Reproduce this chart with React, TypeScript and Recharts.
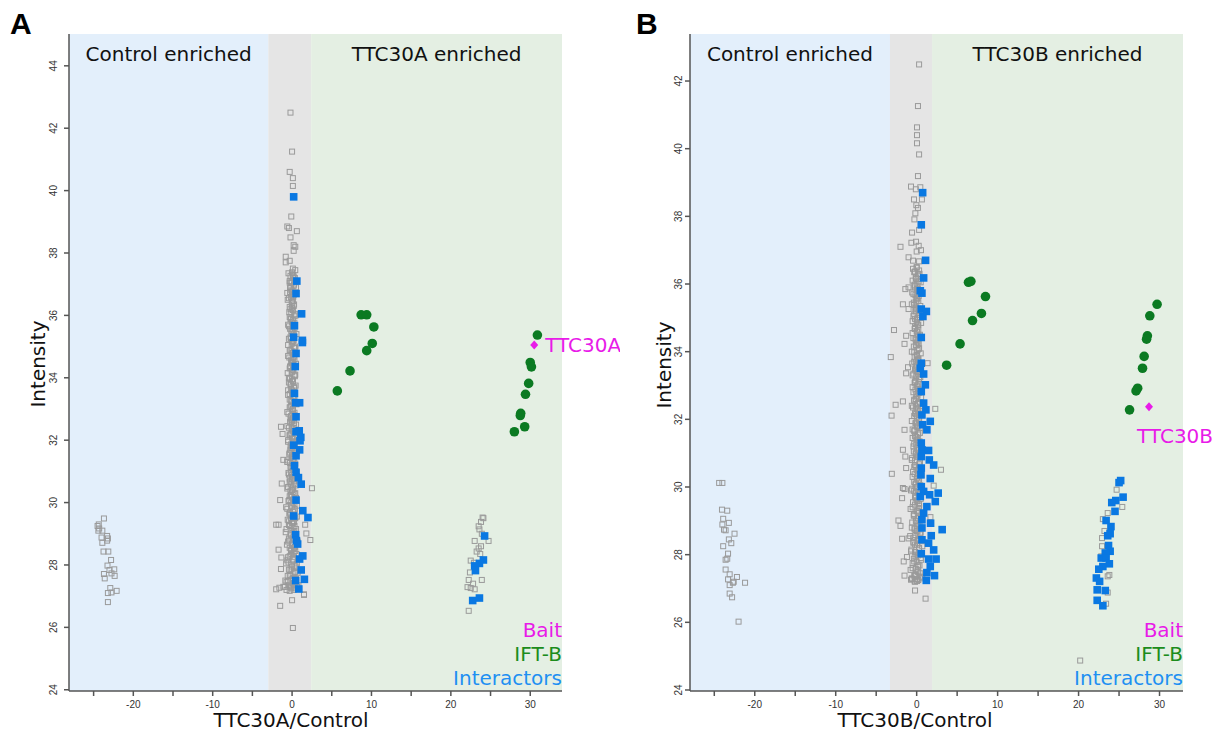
import React from "react";
import { ScatterChart, Scatter, XAxis, YAxis, ReferenceArea } from "recharts";

type Pt = [number, number];

// ---- Panel A (TTC30A) ----
const aGrayLeft: Pt[] = [
  [-23.7, 29.49], [-24.35, 29.3], [-24.5, 29.25], [-24.3, 29.17], [-24.4, 29.1], [-23.9, 29.1],
  [-23.3, 28.93], [-23.2, 28.85], [-24.0, 28.88], [-23.9, 28.71], [-23.3, 28.78], [-23.75, 28.43],
  [-23.15, 28.43], [-22.8, 28.16], [-23.25, 27.98], [-22.4, 27.86], [-23.0, 27.84], [-23.7, 27.71],
  [-22.75, 27.73], [-22.35, 27.65], [-23.6, 27.57], [-22.9, 27.26], [-22.75, 27.12], [-23.2, 27.1],
  [-22.1, 27.17], [-23.2, 26.81],
];
const aGrayCenter: Pt[] = [
  [-0.2, 42.5], [0.0, 41.25], [-0.3, 40.6], [0.1, 40.4], [0.1, 40.15], [-0.1, 39.17], [-0.6, 38.85],
  [-0.4, 38.8], [0.6, 38.7], [-0.2, 38.5], [0.2, 38.25], [0.4, 38.2], [0.2, 38.07], [-0.8, 37.88],
  [-0.3, 37.75], [-0.8, 37.7], [0.1, 37.5], [0.4, 37.45], [0.2, 37.25], [-0.3, 37.05], [-0.2, 36.9],
  [-0.6, 36.72], [0.0, 36.68],
  [2.5, 30.46], [-1.4, 32.43], [-1.2, 32.2], [-1.1, 31.37], [-1.3, 30.61], [-1.5, 30.08], [-2.0, 29.29],
  [-1.7, 29.29], [1.65, 29.29], [1.8, 29.01], [2.3, 28.8], [-1.7, 28.49], [-1.35, 28.24], [-1.4, 27.87],
  [-1.6, 27.27], [-2.0, 27.22], [-1.1, 27.3], [-0.7, 27.2], [-0.3, 27.17], [1.5, 27.04], [0.0, 26.87],
  [-1.5, 26.69], [0.1, 25.98], [1.5, 27.06],
];
const aGrayCore: Pt[] = [
  [0.1, 37.3], [-0.3, 37.1], [0.2, 36.95], [-0.1, 36.8], [0.3, 36.7], [-0.4, 36.55], [0.0, 36.45],
  [0.2, 36.3], [-0.2, 36.2], [0.4, 36.05], [-0.3, 35.95], [0.1, 35.85], [-0.5, 35.7], [0.3, 35.6],
  [-0.1, 35.5], [0.2, 35.35], [-0.4, 35.25], [0.0, 35.15], [0.4, 35.0], [-0.2, 34.9], [0.1, 34.8],
  [-0.5, 34.7], [0.3, 34.6], [-0.1, 34.5], [0.2, 34.4], [-0.3, 34.3], [0.0, 34.2], [0.4, 34.1],
  [-0.4, 34.0], [0.1, 33.9], [-0.2, 33.8], [0.3, 33.7], [-0.5, 33.6], [0.0, 33.5], [0.2, 33.4],
  [-0.3, 33.3], [0.4, 33.2], [-0.1, 33.1], [0.1, 33.0], [-0.6, 32.9], [0.3, 32.8], [-0.2, 32.7],
  [0.0, 32.6], [0.5, 32.5], [-0.4, 32.4], [0.2, 32.3], [-0.1, 32.2], [0.3, 32.1], [-0.5, 32.0],
  [0.1, 31.9], [-0.2, 31.8], [0.4, 31.7], [-0.3, 31.6], [0.0, 31.5], [0.2, 31.4], [-0.6, 31.3],
  [0.3, 31.2], [-0.1, 31.1], [0.5, 31.0], [-0.4, 30.9], [0.1, 30.8], [-0.2, 30.7], [0.3, 30.6],
  [-0.5, 30.5], [0.0, 30.4], [0.4, 30.3], [-0.3, 30.2], [0.2, 30.1], [-0.1, 30.0], [0.6, 29.9],
  [-0.6, 29.8], [0.1, 29.7], [-0.2, 29.6], [0.4, 29.5], [-0.4, 29.4], [0.0, 29.35], [0.3, 29.25],
  [-0.7, 29.15], [0.2, 29.05], [-0.1, 28.95], [0.5, 28.85], [-0.5, 28.75], [0.1, 28.65], [-0.3, 28.55],
  [0.4, 28.45], [-0.1, 28.35], [0.2, 28.25], [-0.6, 28.15], [0.6, 28.05], [0.0, 27.95], [-0.4, 27.85],
  [0.3, 27.75], [-0.2, 27.65], [0.5, 27.55], [-0.7, 27.45], [0.1, 27.4], [-0.3, 27.3], [0.4, 27.25],
  [-0.9, 27.3], [0.8, 27.35],
  [-0.45, 37.35], [0.35, 37.2], [-0.05, 37.05], [0.5, 36.9], [-0.25, 36.75], [0.15, 36.6], [-0.55, 36.5],
  [0.25, 36.35], [0.0, 36.25], [-0.35, 36.1], [0.45, 36.0], [-0.15, 35.9], [0.3, 35.75], [-0.4, 35.65],
  [0.05, 35.55], [0.55, 35.4], [-0.2, 35.3], [0.2, 35.2], [-0.5, 35.05], [0.4, 34.95], [-0.05, 34.85],
  [0.25, 34.75], [-0.35, 34.65], [0.1, 34.55], [0.5, 34.45], [-0.25, 34.35], [0.15, 34.25], [-0.55, 34.15],
  [0.35, 34.05], [0.0, 33.95], [-0.4, 33.85], [0.45, 33.75], [-0.15, 33.65], [0.2, 33.55], [-0.5, 33.45],
  [0.3, 33.35], [-0.05, 33.25], [0.55, 33.15], [-0.3, 33.05], [0.1, 32.95], [-0.45, 32.85], [0.4, 32.75],
  [-0.1, 32.65], [0.25, 32.55], [-0.6, 32.45], [0.05, 32.35], [0.45, 32.25], [-0.3, 32.15], [0.15, 32.05],
  [-0.5, 31.95], [0.35, 31.85], [-0.05, 31.75], [0.55, 31.65], [-0.35, 31.55], [0.1, 31.45], [-0.6, 31.35],
  [0.4, 31.25], [-0.2, 31.15], [0.25, 31.05], [-0.45, 30.95], [0.6, 30.85], [0.0, 30.75], [-0.3, 30.65],
  [0.45, 30.55], [-0.6, 30.45], [0.15, 30.35], [-0.15, 30.25], [0.5, 30.15], [-0.45, 30.05], [0.3, 29.95],
  [-0.75, 29.85], [0.2, 29.75], [-0.35, 29.65], [0.6, 29.55], [-0.55, 29.45], [0.1, 29.35], [-0.25, 29.25],
  [0.5, 29.15], [-0.8, 29.05], [0.35, 28.95], [-0.4, 28.85], [0.7, 28.75], [-0.65, 28.65], [0.25, 28.55],
  [-0.15, 28.45], [0.55, 28.35], [-0.5, 28.25], [0.15, 28.15], [-0.75, 28.05], [0.45, 27.95], [-0.2, 27.85],
  [0.7, 27.75], [-0.55, 27.65], [0.05, 27.55], [-0.85, 27.5], [0.35, 27.45], [-0.4, 27.35], [0.65, 27.3],
  [-0.1, 27.25], [0.2, 27.2],
  [0.0, 37.38], [-0.2, 37.27], [0.15, 37.19], [-0.1, 37.06], [0.25, 36.99], [-0.25, 36.87], [0.05, 36.79],
  [0.2, 36.66], [-0.15, 36.58], [0.1, 36.47], [-0.05, 36.39], [-0.3, 36.27], [0.1, 36.17], [-0.1, 36.09],
  [0.3, 35.97], [-0.2, 35.88], [0.0, 35.77], [0.15, 35.69], [-0.25, 35.57], [0.05, 35.48], [0.2, 35.39],
  [-0.15, 35.27], [0.1, 35.18], [-0.05, 35.09], [0.25, 34.97], [-0.3, 34.88], [0.05, 34.79], [0.2, 34.67],
  [-0.1, 34.58], [0.0, 34.47], [-0.2, 34.38], [0.15, 34.29], [-0.05, 34.17], [0.3, 34.08], [-0.25, 33.97],
  [0.1, 33.88], [-0.15, 33.78], [0.25, 33.67], [0.0, 33.59], [-0.3, 33.48], [0.15, 33.38], [-0.1, 33.27],
  [0.2, 33.19], [-0.2, 33.07], [0.05, 32.98], [0.3, 32.88], [-0.15, 32.77], [0.1, 32.69], [-0.25, 32.58],
  [0.2, 32.47], [-0.05, 32.38], [0.15, 32.28], [-0.3, 32.18], [0.0, 32.08], [0.25, 31.98], [-0.1, 31.87],
  [0.1, 31.79], [-0.2, 31.68], [0.3, 31.58], [-0.05, 31.47], [0.15, 31.38], [-0.25, 31.27], [0.05, 31.17],
  [0.2, 31.08], [-0.15, 30.98], [0.0, 30.88], [-0.3, 30.77], [0.25, 30.68], [-0.1, 30.58], [0.1, 30.48],
  [-0.2, 30.38], [0.3, 30.28], [0.0, 30.18], [-0.35, 30.08], [0.15, 29.98], [-0.05, 29.88], [0.35, 29.78],
  [-0.25, 29.68], [0.1, 29.58], [-0.15, 29.48], [0.25, 29.38], [-0.4, 29.28], [0.05, 29.18], [0.3, 29.08],
  [-0.2, 28.98], [0.15, 28.88], [-0.35, 28.78], [0.0, 28.68], [0.35, 28.58], [-0.1, 28.48], [0.2, 28.38],
  [-0.3, 28.28], [0.1, 28.18], [-0.45, 28.08], [0.3, 27.98], [-0.05, 27.88], [0.4, 27.78], [-0.3, 27.68],
  [0.15, 27.58], [-0.5, 27.48], [0.25, 27.38], [-0.15, 27.28],
];
const aGrayRight: Pt[] = [
  [24.0, 29.52], [24.1, 29.5], [23.8, 29.38], [23.5, 29.24], [23.6, 29.14], [23.9, 29.0], [23.0, 28.77],
  [24.75, 28.77], [23.8, 28.6], [23.5, 28.53], [23.25, 28.43], [23.7, 28.35], [22.5, 28.14], [22.9, 28.07],
  [22.4, 27.76], [23.9, 27.52], [22.25, 27.52], [22.1, 27.29], [22.5, 27.26], [23.0, 27.22], [22.8, 27.4],
  [22.25, 26.53],
];
const aBlue: Pt[] = [
  [0.2, 39.8], [0.6, 37.1], [0.5, 36.7], [1.2, 36.05], [0.3, 35.67], [0.2, 35.3], [1.3, 35.2], [1.3, 35.13],
  [0.5, 34.78], [0.4, 34.36], [0.3, 33.5], [0.45, 33.2], [0.95, 33.2], [0.5, 32.75], [0.5, 32.27],
  [0.9, 32.3], [1.1, 32.09], [1.0, 31.98], [0.2, 31.84], [0.95, 31.69], [0.5, 31.5], [0.3, 31.18],
  [0.5, 30.97], [0.8, 30.8], [1.15, 30.59], [0.5, 30.08], [1.35, 29.74], [2.0, 29.52], [0.2, 29.57],
  [0.45, 28.97], [0.55, 28.78], [0.7, 28.67], [1.35, 28.29], [0.95, 28.19], [1.15, 27.84], [0.45, 27.5],
  [1.55, 27.54], [0.85, 27.23],
  [24.25, 28.93], [24.1, 28.16], [23.6, 28.05], [23.0, 27.97], [23.1, 27.82], [22.75, 26.86], [23.6, 26.94],
];
const aGreen: Pt[] = [
  [5.7, 33.58], [7.3, 34.22], [8.7, 36.02], [9.4, 36.02], [10.3, 35.63], [9.4, 34.87], [10.1, 35.1],
  [30.9, 35.37], [30.0, 34.49], [30.15, 34.35], [29.8, 33.82], [29.4, 33.47], [28.8, 32.86],
  [28.75, 32.79], [29.3, 32.43], [28.0, 32.27],
];
const aBait: Pt[] = [[30.5, 35.05]];

// ---- Panel B (TTC30B) ----
const bGrayLeft: Pt[] = [
  [-24.4, 30.12], [-24.0, 30.12], [-24.05, 29.33], [-23.4, 29.3], [-23.9, 29.06], [-23.2, 28.94],
  [-24.0, 28.89], [-23.8, 28.74], [-23.6, 28.72], [-22.5, 28.62], [-23.2, 28.45], [-22.9, 28.34],
  [-23.9, 28.25], [-23.3, 28.03], [-23.4, 27.88], [-23.6, 27.85], [-23.6, 27.56], [-23.1, 27.42],
  [-22.2, 27.34], [-23.3, 27.27], [-22.7, 27.17], [-23.1, 27.1], [-22.6, 27.2], [-21.2, 27.17],
  [-23.1, 26.85], [-22.8, 26.74], [-22.0, 26.02],
];
const bGrayCenter: Pt[] = [
  [0.3, 42.49], [0.16, 41.26], [0.04, 40.63], [0.04, 40.4], [0.04, 40.16], [0.3, 39.83], [0.16, 39.19],
  [-0.7, 38.88], [-0.1, 38.8], [0.45, 38.86], [-0.33, 38.5], [0.65, 38.5], [-0.04, 38.33], [0.16, 38.25],
  [-0.16, 38.09], [-0.28, 37.91], [0.3, 37.6], [-0.57, 37.52], [-0.65, 37.22], [-0.08, 37.25],
  [-2.0, 37.1], [0.25, 37.13], [0.0, 36.96], [0.53, 37.0], [-1.0, 36.79], [-0.45, 36.69], [0.3, 36.67],
  [0.3, 36.4], [-0.1, 36.2], [-1.4, 35.85], [-1.0, 35.9], [-1.7, 35.4], [-1.0, 35.26], [-2.8, 34.64],
  [-1.3, 34.47], [-1.5, 34.23],
  [-3.2, 33.84], [1.35, 33.66], [-1.3, 33.36], [-1.07, 33.54], [-1.7, 32.53], [-2.6, 32.43], [-3.1, 32.11],
  [2.3, 32.31], [-1.5, 31.69], [-1.7, 31.1], [-1.4, 30.9], [3.0, 30.51], [-3.07, 30.39], [-1.3, 30.56],
  [2.1, 30.04], [-1.7, 29.97], [-1.5, 29.94], [-1.8, 29.67], [-2.25, 29.01], [-2.0, 28.85], [-1.8, 28.47],
  [-1.0, 28.48], [1.7, 29.11], [-1.6, 27.8], [-1.2, 27.93], [-1.5, 27.38], [-0.7, 27.26], [-0.25, 27.21],
  [-0.2, 26.94], [1.1, 26.7],
];
const bGrayCore: Pt[] = [
  [0.0, 36.5], [-0.3, 36.35], [0.2, 36.25], [-0.5, 36.1], [0.1, 36.0], [-0.2, 35.9], [0.3, 35.8],
  [-0.4, 35.7], [0.0, 35.6], [0.2, 35.5], [-0.6, 35.4], [-0.1, 35.3], [0.3, 35.2], [-0.3, 35.1],
  [0.1, 35.0], [-0.5, 34.9], [0.2, 34.8], [-0.2, 34.7], [0.0, 34.6], [0.4, 34.5], [-0.4, 34.4],
  [0.1, 34.3], [-0.1, 34.2], [0.3, 34.1], [-0.6, 34.0], [0.0, 33.9], [0.2, 33.8], [-0.3, 33.7],
  [0.4, 33.6], [-0.1, 33.5], [0.1, 33.4], [-0.5, 33.3], [0.3, 33.2], [-0.2, 33.1], [0.0, 33.0],
  [0.2, 32.9], [-0.4, 32.8], [0.1, 32.7], [-0.1, 32.6], [0.4, 32.5], [-0.6, 32.4], [0.0, 32.3],
  [0.2, 32.2], [-0.3, 32.1], [0.3, 32.0], [-0.1, 31.9], [0.1, 31.8], [-0.5, 31.7], [0.4, 31.6],
  [-0.2, 31.5], [0.0, 31.4], [0.2, 31.3], [-0.4, 31.2], [0.3, 31.1], [-0.1, 31.0], [0.1, 30.9],
  [-0.6, 30.8], [0.4, 30.7], [-0.3, 30.6], [0.0, 30.5], [0.2, 30.4], [-0.5, 30.3], [0.3, 30.2],
  [-0.1, 30.1], [0.1, 30.0], [-0.7, 29.9], [0.4, 29.8], [-0.2, 29.7], [0.0, 29.6], [0.3, 29.5],
  [-0.5, 29.4], [0.1, 29.3], [-0.3, 29.2], [0.5, 29.1], [-0.1, 29.0], [0.2, 28.9], [-0.6, 28.8],
  [0.0, 28.7], [0.4, 28.6], [-0.4, 28.5], [0.1, 28.4], [-0.2, 28.3], [0.3, 28.2], [-0.7, 28.1],
  [0.0, 28.0], [0.5, 27.9], [-0.3, 27.8], [0.2, 27.7], [-0.5, 27.6], [0.1, 27.5], [-0.1, 27.4],
  [0.4, 27.35], [-0.6, 27.3], [0.2, 27.25], [-0.2, 27.2], [0.6, 27.3],
  [-0.45, 36.45], [0.35, 36.3], [-0.05, 36.15], [0.5, 36.05], [-0.25, 35.95], [0.15, 35.85], [-0.55, 35.75],
  [0.25, 35.65], [0.0, 35.55], [-0.35, 35.45], [0.45, 35.35], [-0.15, 35.25], [0.3, 35.15], [-0.4, 35.05],
  [0.05, 34.95], [0.55, 34.85], [-0.2, 34.75], [0.2, 34.65], [-0.5, 34.55], [0.4, 34.45], [-0.05, 34.35],
  [0.25, 34.25], [-0.35, 34.15], [0.1, 34.05], [0.5, 33.95], [-0.25, 33.85], [0.15, 33.75], [-0.55, 33.65],
  [0.35, 33.55], [0.0, 33.45], [-0.4, 33.35], [0.45, 33.25], [-0.15, 33.15], [0.2, 33.05], [-0.5, 32.95],
  [0.3, 32.85], [-0.05, 32.75], [0.55, 32.65], [-0.3, 32.55], [0.1, 32.45], [-0.45, 32.35], [0.4, 32.25],
  [-0.1, 32.15], [0.25, 32.05], [-0.6, 31.95], [0.05, 31.85], [0.45, 31.75], [-0.3, 31.65], [0.15, 31.55],
  [-0.5, 31.45], [0.35, 31.35], [-0.05, 31.25], [0.55, 31.15], [-0.35, 31.05], [0.1, 30.95], [-0.6, 30.85],
  [0.4, 30.75], [-0.2, 30.65], [0.25, 30.55], [-0.45, 30.45], [0.6, 30.35], [0.0, 30.25], [-0.3, 30.15],
  [0.45, 30.05], [-0.6, 29.95], [0.15, 29.85], [-0.15, 29.75], [0.5, 29.65], [-0.45, 29.55], [0.3, 29.45],
  [-0.75, 29.35], [0.2, 29.25], [-0.35, 29.15], [0.6, 29.05], [-0.55, 28.95], [0.1, 28.85], [-0.25, 28.75],
  [0.5, 28.65], [-0.8, 28.55], [0.35, 28.45], [-0.4, 28.35], [0.7, 28.25], [-0.65, 28.15], [0.25, 28.05],
  [-0.15, 27.95], [0.55, 27.85], [-0.5, 27.75], [0.15, 27.65], [-0.75, 27.55], [0.45, 27.45], [-0.2, 27.38],
  [0.7, 27.33], [-0.55, 27.28], [0.05, 27.22],
  [0.0, 36.48], [-0.2, 36.37], [0.15, 36.29], [-0.1, 36.17], [0.25, 36.08], [-0.25, 35.98], [0.05, 35.87],
  [0.2, 35.79], [-0.15, 35.67], [0.1, 35.58], [-0.05, 35.48], [-0.3, 35.38], [0.1, 35.27], [-0.1, 35.19],
  [0.3, 35.08], [-0.2, 34.97], [0.0, 34.88], [0.15, 34.78], [-0.25, 34.67], [0.05, 34.59], [0.2, 34.48],
  [-0.15, 34.38], [0.1, 34.27], [-0.05, 34.18], [0.25, 34.08], [-0.3, 33.98], [0.05, 33.87], [0.2, 33.78],
  [-0.1, 33.68], [0.0, 33.58], [-0.2, 33.47], [0.15, 33.38], [-0.05, 33.28], [0.3, 33.18], [-0.25, 33.08],
  [0.1, 32.97], [-0.15, 32.88], [0.25, 32.78], [0.0, 32.67], [-0.3, 32.58], [0.15, 32.48], [-0.1, 32.38],
  [0.2, 32.27], [-0.2, 32.18], [0.05, 32.08], [0.3, 31.98], [-0.15, 31.88], [0.1, 31.77], [-0.25, 31.68],
  [0.2, 31.58], [-0.05, 31.48], [0.15, 31.38], [-0.3, 31.28], [0.0, 31.17], [0.25, 31.08], [-0.1, 30.98],
  [0.1, 30.88], [-0.2, 30.78], [0.3, 30.67], [-0.05, 30.58], [0.15, 30.48], [-0.25, 30.38], [0.05, 30.28],
  [0.2, 30.18], [-0.15, 30.07], [0.0, 29.98], [-0.3, 29.88], [0.25, 29.78], [-0.1, 29.68], [0.1, 29.58],
  [-0.2, 29.48], [0.3, 29.38], [0.0, 29.28], [-0.35, 29.18], [0.15, 29.08], [-0.05, 28.98], [0.35, 28.88],
  [-0.25, 28.78], [0.1, 28.68], [-0.15, 28.58], [0.25, 28.48], [-0.4, 28.38], [0.05, 28.28], [0.3, 28.18],
  [-0.2, 28.08], [0.15, 27.98], [-0.35, 27.88], [0.0, 27.78], [0.35, 27.68], [-0.1, 27.58], [0.2, 27.48],
  [-0.3, 27.38], [0.1, 27.28],
];
const bGrayRight: Pt[] = [
  [24.7, 29.92], [25.4, 29.41], [23.6, 29.23], [23.0, 29.05], [22.9, 28.49], [22.9, 28.25], [23.6, 27.36],
  [23.8, 27.4], [23.6, 26.88], [23.4, 26.55], [23.2, 28.7], [22.8, 27.95], [20.2, 24.87],
];
const bBlue: Pt[] = [
  [0.74, 38.7], [0.57, 37.75], [1.1, 36.7], [0.86, 36.18], [0.45, 35.8], [0.65, 35.73], [0.57, 35.26],
  [1.2, 35.19], [0.77, 35.04], [0.57, 34.42], [0.57, 33.66], [0.45, 33.51], [0.86, 33.34], [1.07, 33.02],
  [0.57, 32.82], [0.86, 32.48], [1.14, 32.28], [0.65, 32.13], [1.68, 31.94], [0.74, 31.84], [1.26, 31.69],
  [0.57, 31.3], [0.65, 31.1], [1.47, 31.08], [0.57, 30.9], [1.56, 30.8], [2.1, 30.65], [0.57, 30.56],
  [0.53, 30.36], [1.68, 30.25], [0.57, 30.01], [0.86, 29.87], [0.45, 29.72], [1.6, 29.77], [2.66, 29.82],
  [2.3, 29.57], [1.26, 29.42], [0.86, 29.23], [0.65, 29.03], [1.72, 28.93], [0.65, 28.79], [3.15, 28.74],
  [1.8, 28.56], [0.65, 28.44], [1.47, 28.34], [2.1, 28.14], [0.57, 28.03], [1.47, 27.87], [2.4, 27.87],
  [1.68, 27.65], [1.26, 27.47], [2.2, 27.38], [1.19, 27.24],
  [25.2, 30.19], [25.0, 30.13], [25.5, 29.7], [24.6, 29.6], [24.1, 29.54], [24.5, 29.28], [23.4, 29.01],
  [24.0, 28.83], [23.6, 28.56], [23.9, 28.62], [23.7, 28.27], [23.9, 28.1], [23.3, 28.05], [22.8, 27.9],
  [23.4, 27.9], [23.8, 27.73], [23.0, 27.65], [22.5, 27.57], [22.2, 27.31], [22.6, 27.21], [22.3, 26.96],
  [23.3, 26.94], [22.3, 26.65], [23.0, 26.49],
];
const bGreen: Pt[] = [
  [3.7, 33.6], [5.36, 34.23], [6.4, 36.05], [6.7, 36.08], [8.5, 35.63], [8.0, 35.13], [6.9, 34.92],
  [29.7, 35.4], [28.8, 35.06], [28.5, 34.47], [28.4, 34.37], [28.1, 33.86], [27.9, 33.51], [27.3, 32.92],
  [27.1, 32.84], [26.3, 32.28],
];
const bBait: Pt[] = [[28.7, 32.37]];

const xTicks = [-25, -20, -15, -10, -5, 0, 5, 10, 15, 20, 25, 30];
const aYTicks = [24, 26, 28, 30, 32, 34, 36, 38, 40, 42, 44];
const bYTicks = [24, 26, 28, 30, 32, 34, 36, 38, 40, 42];

const toXY = (pts: Pt[]) => pts.map(([x, y]) => ({ x, y }));

const FONT = "'DejaVu Sans', Verdana, sans-serif";
const TICK_FONT = "'Liberation Sans', Arial, sans-serif";
const GRAY = "#9a9a9a";
const BLUE = "#0a78e2";
const GREEN = "#0b7a22";
const MAGENTA = "#e81be8";

const GraySquare = (p: any) => (
  <rect x={p.cx - 2.5} y={p.cy - 2.5} width={5} height={5} fill="none" stroke={GRAY} strokeWidth={1} />
);
const BlueSquare = (p: any) => (
  <rect x={p.cx - 3.8} y={p.cy - 3.8} width={7.6} height={7.6} fill={BLUE} />
);
const GreenDot = (p: any) => <circle cx={p.cx} cy={p.cy} r={4.8} fill={GREEN} />;

const makeBait = (label: string, dx: number, dy: number) => (p: any) => (
  <g>
    <path
      d={`M${p.cx},${p.cy - 4.5} L${p.cx + 4},${p.cy} L${p.cx},${p.cy + 4.5} L${p.cx - 4},${p.cy} Z`}
      fill={MAGENTA}
    />
    <text
      x={p.cx + dx}
      y={p.cy + dy}
      fill={MAGENTA}
      fontSize={20}
      fontFamily={FONT}
      textAnchor="start"
      dominantBaseline="central"
    >
      {label}
    </text>
  </g>
);

const YTick = (p: any) => (
  <text
    x={p.x}
    y={p.y}
    transform={`rotate(-90 ${p.x} ${p.y})`}
    textAnchor="middle"
    fontSize={10}
    fontFamily={TICK_FONT}
    fill="#333"
  >
    {p.payload.value}
  </text>
);

type PanelProps = {
  left: number;
  width: number;
  marginLeft: number;
  marginRight: number;
  xDomain: [number, number];
  yDomain: [number, number];
  yTicks: number[];
  yTickMargin: number;
  bandLo: number;
  bandHi: number;
  enrichedLabel: string;
  grayLeft: Pt[];
  grayCenter: Pt[];
  grayCore: Pt[];
  grayRight: Pt[];
  blue: Pt[];
  green: Pt[];
  bait: Pt[];
  baitShape: (p: any) => React.ReactElement;
};

function Panel(props: PanelProps) {
  const axisStroke = { stroke: "#555", strokeWidth: 1.5 };
  const regionLabel = { position: "insideTop" as const, offset: 13, fontSize: 20, fontFamily: FONT, fill: "#111" };
  return (
    <div style={{ position: "absolute", left: props.left, top: 0 }}>
      <ScatterChart
        width={props.width}
        height={731}
        margin={{ top: 34, right: props.marginRight, bottom: 0, left: props.marginLeft }}
      >
        <XAxis
          type="number"
          dataKey="x"
          domain={props.xDomain}
          ticks={xTicks}
          tickFormatter={(v: number) => (v % 10 === 0 ? String(v) : "")}
          height={40}
          tickSize={5}
          tickMargin={5}
          axisLine={axisStroke}
          tickLine={axisStroke}
          tick={{ fontSize: 10, fontFamily: TICK_FONT, fill: "#333" }}
        />
        <YAxis
          type="number"
          dataKey="y"
          domain={props.yDomain}
          ticks={props.yTicks}
          width={45}
          tickSize={5}
          tickMargin={props.yTickMargin}
          axisLine={axisStroke}
          tickLine={axisStroke}
          tick={<YTick />}
        />
        <ReferenceArea
          x1={props.xDomain[0]}
          x2={props.bandLo}
          fill="#e3effb"
          fillOpacity={1}
          stroke="none"
          label={{ value: "Control enriched", ...regionLabel }}
        />
        <ReferenceArea x1={props.bandLo} x2={props.bandHi} fill="#e5e5e5" fillOpacity={1} stroke="none" />
        <ReferenceArea
          x1={props.bandHi}
          x2={props.xDomain[1]}
          fill="#e4efe3"
          fillOpacity={1}
          stroke="none"
          label={{ value: props.enrichedLabel, ...regionLabel }}
        />
        <Scatter data={toXY(props.grayLeft)} shape={GraySquare} isAnimationActive={false} />
        <Scatter data={toXY(props.grayCore)} shape={GraySquare} isAnimationActive={false} />
        <Scatter data={toXY(props.grayCenter)} shape={GraySquare} isAnimationActive={false} />
        <Scatter data={toXY(props.grayRight)} shape={GraySquare} isAnimationActive={false} />
        <Scatter data={toXY(props.blue)} shape={BlueSquare} isAnimationActive={false} />
        <Scatter data={toXY(props.green)} shape={GreenDot} isAnimationActive={false} />
        <Scatter data={toXY(props.bait)} shape={props.baitShape} isAnimationActive={false} />
      </ScatterChart>
    </div>
  );
}

function Legend({ right }: { right: number }) {
  return (
    <g fontFamily={FONT} fontSize={20} textAnchor="end">
      <text x={right} y={637} fill={MAGENTA}>Bait</text>
      <text x={right} y={661} fill="#1c8c1c">IFT-B</text>
      <text x={right} y={685} fill="#1e8ff2">Interactors</text>
    </g>
  );
}

export default function App() {
  return (
    <div style={{ position: "absolute", left: 0, top: 0, width: 1223, height: 731, background: "#fff" }}>
      <Panel
        left={0}
        width={620}
        marginLeft={24}
        marginRight={58}
        xDomain={[-28.1, 34]}
        yDomain={[23.96, 45.02]}
        yTicks={aYTicks}
        yTickMargin={7}
        bandLo={-3.0}
        bandHi={2.4}
        enrichedLabel="TTC30A enriched"
        grayLeft={aGrayLeft}
        grayCenter={aGrayCenter}
        grayCore={aGrayCore}
        grayRight={aGrayRight}
        blue={aBlue}
        green={aGreen}
        bait={aBait}
        baitShape={makeBait("TTC30A", 11, 0)}
      />
      <Panel
        left={620}
        width={603}
        marginLeft={25}
        marginRight={40}
        xDomain={[-28, 32.9]}
        yDomain={[23.97, 43.39]}
        yTicks={bYTicks}
        yTickMargin={3}
        bandLo={-3.3}
        bandHi={1.9}
        enrichedLabel="TTC30B enriched"
        grayLeft={bGrayLeft}
        grayCenter={bGrayCenter}
        grayCore={bGrayCore}
        grayRight={bGrayRight}
        blue={bBlue}
        green={bGreen}
        bait={bBait}
        baitShape={makeBait("TTC30B", -12, 29)}
      />
      <svg
        width={1223}
        height={731}
        style={{ position: "absolute", left: 0, top: 0, pointerEvents: "none" }}
      >
        <text x={10} y={34} fontFamily={TICK_FONT} fontWeight="bold" fontSize={30} fill="#000">A</text>
        <text x={636} y={34} fontFamily={TICK_FONT} fontWeight="bold" fontSize={30} fill="#000">B</text>
        <text
          transform="translate(38,364) rotate(-90)"
          textAnchor="middle"
          dominantBaseline="central"
          fontFamily={FONT}
          fontSize={20}
          fill="#111"
        >
          Intensity
        </text>
        <text
          transform="translate(664,365) rotate(-90)"
          textAnchor="middle"
          dominantBaseline="central"
          fontFamily={FONT}
          fontSize={20}
          fill="#111"
        >
          Intensity
        </text>
        <text x={291} y={727} textAnchor="middle" fontFamily={FONT} fontSize={20} fill="#111">TTC30A/Control</text>
        <text x={915} y={727} textAnchor="middle" fontFamily={FONT} fontSize={20} fill="#111">TTC30B/Control</text>
        <Legend right={562} />
        <Legend right={1183} />
      </svg>
    </div>
  );
}
